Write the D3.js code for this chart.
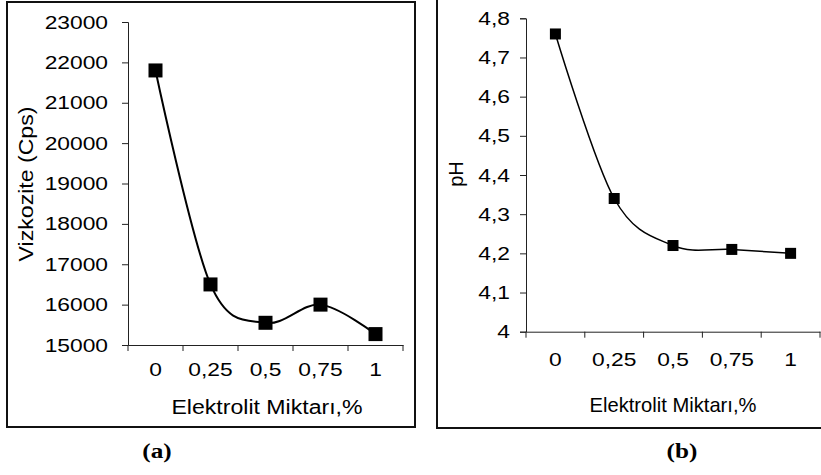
<!DOCTYPE html>
<html>
<head>
<meta charset="utf-8">
<script src="https://cdn.jsdelivr.net/npm/d3@7"></script>
<style>
  body { margin: 0; background: #fff; }
  svg { display: block; font-family: "Liberation Sans", Arial, sans-serif; }
</style>
</head>
<body>
<svg id="chart"></svg>
<script>
/* Données */
const categories = ['0', '0,25', '0,5', '0,75', '1']
const viscosity = [21800, 16500, 15550, 16000, 15270]
const phValues = [4.76, 4.34, 4.22, 4.21, 4.20]
const viscTicks = [15000, 16000, 17000, 18000, 19000, 20000, 21000, 22000, 23000]
const phTicks = [4, 4.1, 4.2, 4.3, 4.4, 4.5, 4.6, 4.7, 4.8]
const xTitle = 'Elektrolit Miktarı,%'

const width = 821, height = 475

const svg = d3.select('#chart')
              .attr('width', width)
              .attr('height', height)

/* élargit le texte horizontalement (la figure d'origine est étirée) */
const stretch = (sel, k) => {
    sel.each(function () {
        const t = d3.select(this)
        const x = +(t.attr('x') || 0)
        const tr = t.attr('transform') || ''
        t.attr('x', x / k)
         .attr('transform', (tr + ' scale(' + k + ',1)').trim())
    })
}

const commaFmt = d => (+d.toFixed(1)).toString().replace('.', ',')

/* Dessine un panneau complet */
const drawPanel = (p) => {
    const g = svg.append('g')

    // cadre
    g.append('rect')
     .attr('x', p.box[0]).attr('y', p.box[1])
     .attr('width', p.box[2] - p.box[0]).attr('height', p.box[3] - p.box[1])
     .attr('fill', 'none')
     .attr('stroke', '#111')
     .attr('stroke-width', 2)

    const xScale = d3.scaleBand()
                     .domain(categories)
                     .range(p.xRange)
                     .padding(0)

    const yScale = d3.scaleLinear()
                     .domain(p.yDomain)
                     .range(p.yRange)

    // axe des y
    const yAxis = d3.axisLeft(yScale)
                    .tickValues(p.ticks)
                    .tickFormat(p.fmt)
                    .tickSize(6)
                    .tickPadding(p.yPad)
    const gy = g.append('g')
                .attr('transform', 'translate(' + p.xRange[0] + ',0)')
                .call(yAxis)
    gy.attr('font-family', null).attr('font-size', null)
    gy.select('.domain').attr('stroke', '#222')
    gy.selectAll('.tick line').attr('stroke', '#222')
    gy.selectAll('text')
      .attr('fill', '#000')
      .style('font-size', p.tickFont + 'px')
      .call(stretch, p.tickK)

    // axe des x : étiquettes au centre des catégories
    const xAxis = d3.axisBottom(xScale)
                    .tickSize(0)
                    .tickPadding(p.xPad)
    const gx = g.append('g')
                .attr('transform', 'translate(0,' + p.yRange[0] + ')')
                .call(xAxis)
    gx.attr('font-family', null).attr('font-size', null)
    gx.select('.domain').attr('stroke', '#222')
    gx.selectAll('text')
      .attr('fill', '#000')
      .style('font-size', p.tickFont + 'px')
      .call(stretch, p.tickK)

    // graduations aux limites des catégories
    const edges = [xScale(categories[0])].concat(categories.map(c => xScale(c) + xScale.bandwidth()))
    g.selectAll('.xedge')
     .data(edges)
     .enter()
     .append('line')
     .attr('x1', d => d).attr('x2', d => d)
     .attr('y1', p.yRange[0]).attr('y2', p.yRange[0] + 6)
     .attr('stroke', '#222')

    // courbe lissée
    const line = d3.line()
                   .x((d, i) => xScale(categories[i]) + xScale.bandwidth() / 2)
                   .y(d => yScale(d))
                   .curve(d3.curveCardinal.tension(0))
    g.append('path')
     .datum(p.values)
     .attr('d', line)
     .attr('fill', 'none')
     .attr('stroke', '#000')
     .attr('stroke-width', p.lineW)

    // marqueurs carrés
    g.selectAll('.mark')
     .data(p.values)
     .enter()
     .append('rect')
     .attr('x', (d, i) => xScale(categories[i]) + xScale.bandwidth() / 2 - p.mark / 2)
     .attr('y', d => yScale(d) - p.mark / 2)
     .attr('width', p.mark)
     .attr('height', p.mark)
     .attr('fill', '#000')

    // titre axe des x
    g.append('text')
     .attr('x', p.xTitle[0])
     .attr('y', p.xTitle[1])
     .attr('text-anchor', 'middle')
     .style('font-size', p.titleFont + 'px')
     .text(xTitle)
     .call(stretch, p.titleK)

    // titre axe des y
    g.append('text')
     .attr('transform', 'translate(' + p.yTitle[0] + ',' + p.yTitle[1] + ') rotate(-90)')
     .attr('text-anchor', 'middle')
     .style('font-size', p.yTitleFont + 'px')
     .text(p.yLabel)
     .call(stretch, p.yTitleK)

    // légende (a)/(b)
    g.append('text')
     .attr('x', p.caption[0])
     .attr('y', p.caption[1])
     .attr('text-anchor', 'middle')
     .style('font-family', '"Liberation Serif", "Times New Roman", serif')
     .style('font-weight', 'bold')
     .style('font-size', '21px')
     .text(p.label)
     .call(stretch, 1.2)
}

drawPanel({
    box: [7, 2, 415, 427],
    xRange: [128, 403],
    yDomain: [15000, 23000],
    yRange: [345, 22],
    ticks: viscTicks,
    fmt: d => d,
    values: viscosity,
    yPad: 14, xPad: 18,
    tickFont: 19, tickK: 1.2,
    lineW: 2, mark: 14,
    xTitle: [267, 414], titleFont: 21, titleK: 1.1,
    yTitle: [33, 184], yTitleFont: 21, yTitleK: 1.1,
    yLabel: 'Vizkozite (Cps)',
    caption: [157, 458], label: '(a)'
})

drawPanel({
    box: [437, -5, 830, 428],
    xRange: [526, 820],
    yDomain: [4, 4.8],
    yRange: [331.7, 18.3],
    ticks: phTicks,
    fmt: commaFmt,
    values: phValues,
    yPad: 10, xPad: 21,
    tickFont: 19, tickK: 1.2,
    lineW: 1.5, mark: 11,
    xTitle: [673, 411.7], titleFont: 21, titleK: 0.96,
    yTitle: [462.5, 174], yTitleFont: 20, yTitleK: 1.0,
    yLabel: 'pH',
    caption: [682, 458], label: '(b)'
})
</script>
</body>
</html>
